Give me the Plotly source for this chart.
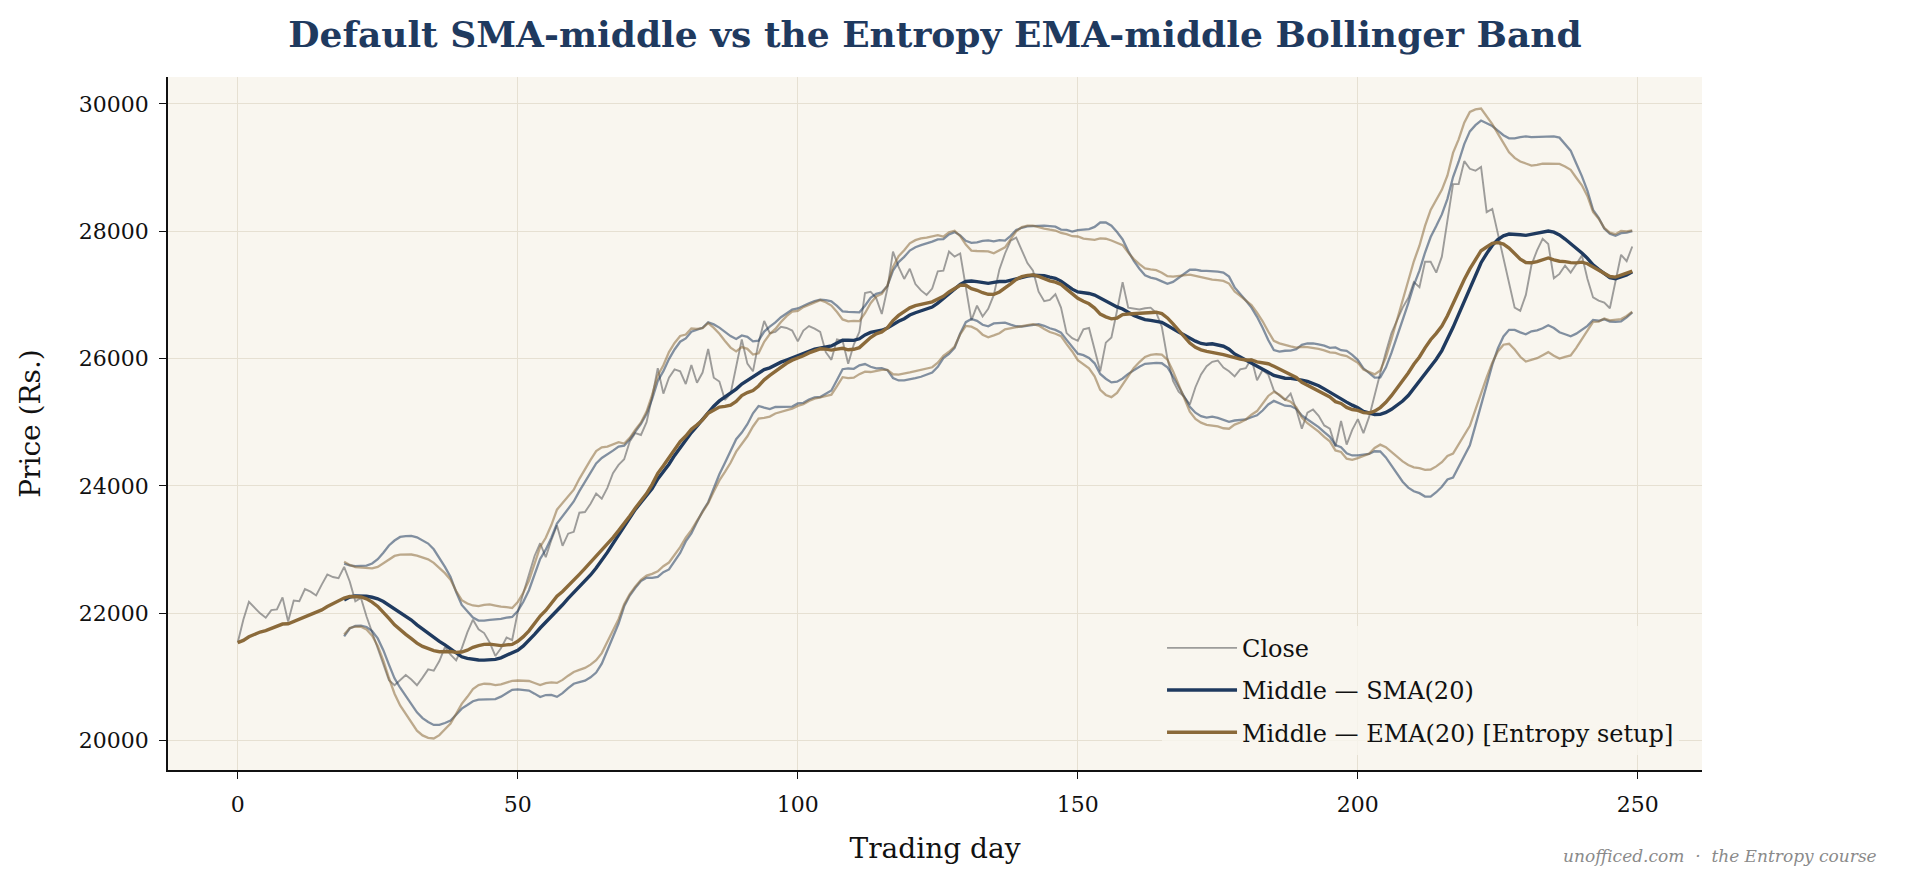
import numpy as np
import pandas as pd
import plotly.graph_objects as go

# ---- data ----
close = [
    21540, 21900, 22180, 22090, 22000, 21930, 22050, 22060, 22250, 21870,
    22200, 22190, 22380, 22340, 22280, 22450, 22610, 22570, 22550, 22730,
    22500, 22190, 22240, 21950, 21700, 21450, 21200, 20950, 20870, 20950,
    21030, 20960, 20870, 20990, 21120, 21100, 21250, 21470, 21350, 21260,
    21450, 21700, 21900, 21750, 21690, 21540, 21330, 21450, 21620, 21580,
    22020, 22320, 22600, 22900, 23100, 22880, 23150, 23380, 23060, 23250,
    23280, 23580, 23590, 23720, 23880, 23800, 23970, 24200, 24330, 24420,
    24700, 24830, 24800, 25000, 25400, 25850, 25450, 25700, 25830, 25800,
    25600, 25900, 25620, 25780, 26150, 25700, 25640, 25350, 25450, 25870,
    26300, 25920, 25800, 26250, 26590, 26400, 26420, 26500, 26480, 26440,
    26270, 26440, 26510, 26470, 26420, 26100, 25980, 26300, 26280, 25920,
    26220, 26420, 27030, 27050, 26950, 26700, 27100, 27680, 27440, 27250,
    27410, 27170, 27070, 27000, 27100, 27370, 27380, 27680, 27600, 27650,
    27150, 26600, 26830, 26660, 26780, 27000, 27400, 27650, 27850, 27900,
    27700, 27500, 27380, 27050, 26900, 26920, 27010, 26800, 26400, 26320,
    26280, 26460, 26480, 26150, 25800, 26250, 26330, 26750, 27200, 26800,
    26780, 26770, 26790, 26800, 26720, 26500, 26000, 25650, 25480, 25400,
    25280, 25550, 25750, 25880, 25950, 25970, 25860, 25800, 25720, 25830,
    25850, 26000, 25660, 25820, 25750, 25500, 25420, 25350, 25450, 25200,
    24900, 25150, 25200, 25100, 24950, 24900, 24620, 25020, 24650, 24880,
    25050, 24830, 25080, 25450, 25770, 26100, 26400, 26600, 26800, 26950,
    27200, 27120, 27520, 27520, 27350, 27600, 28200, 28740, 28740, 29100,
    28980, 28950, 29010, 28300, 28350, 27950, 27570, 27150, 26800, 26750,
    27000, 27470, 27700, 27880, 27800, 27260, 27330, 27460, 27350, 27480,
    27620, 27250, 26960, 26910, 26880, 26790, 27200, 27630, 27530, 27760,
]
window = 20
n_std = 2
x_ticks = [0, 50, 100, 150, 200, 250]
y_ticks = [20000, 22000, 24000, 26000, 28000, 30000]
y_tick_labels = [str(v) for v in y_ticks]
x_tick_labels = [str(v) for v in x_ticks]

title_text = "Default SMA-middle vs the Entropy EMA-middle Bollinger Band"
names = ["Close", "Middle — SMA(20)", "Middle — EMA(20) [Entropy setup]"]
watermark = "unofficed.com  ·  the Entropy course"

# ---- indicators ----
days = np.arange(len(close))
s = pd.Series(close, dtype=float)
sma = s.rolling(window).mean()
std = s.rolling(window).std(ddof=0)
ema = s.ewm(span=window, adjust=False).mean()
sma_up, sma_lo = sma + n_std * std, sma - n_std * std
ema_up, ema_lo = ema + n_std * std, ema - n_std * std

NAVY = "#1f3a5f"
BROWN = "#8b6a3a"
SMA_BAND = "rgba(31,58,95,0.55)"
EMA_BAND = "rgba(139,106,58,0.55)"
CLOSE_C = "rgba(120,120,120,0.72)"
FONT = "DejaVu Serif"

fig = go.Figure()
fig.add_trace(go.Scatter(x=days, y=s, mode="lines", name=names[0],
                         line=dict(color=CLOSE_C, width=1.9),
                         legendgroup="a", legendrank=1))
for y, c in [(sma_up, SMA_BAND), (sma_lo, SMA_BAND), (ema_up, EMA_BAND), (ema_lo, EMA_BAND)]:
    fig.add_trace(go.Scatter(x=days, y=y, mode="lines", showlegend=False,
                             line=dict(color=c, width=2.3), hoverinfo="skip"))
fig.add_trace(go.Scatter(x=days, y=sma, mode="lines", name=names[1],
                         line=dict(color=NAVY, width=3.4),
                         legendgroup="b", legendrank=2))
fig.add_trace(go.Scatter(x=days, y=ema, mode="lines", name=names[2],
                         line=dict(color=BROWN, width=3.4),
                         legendgroup="c", legendrank=3))

allv = pd.concat([s, sma_up, sma_lo, ema_up, ema_lo]).dropna()
lo, hi = allv.min(), allv.max()
pad = (hi - lo) * 0.05
xpad = (len(close) - 1) * 0.05

fig.update_layout(
    width=1909, height=884,
    paper_bgcolor="white", plot_bgcolor="#f9f6ef",
    margin=dict(l=168, r=207, t=77, b=114),
    font=dict(family=FONT, color="#222222"),
    title=dict(text=f"<b>{title_text}</b>", x=(168 + 767) / 1909, xanchor="center",
               y=1 - 34 / 884, yanchor="middle",
               font=dict(family=FONT, size=36, color=NAVY)),
    showlegend=True,
    legend=dict(x=0.648, xanchor="left", y=0.022, yanchor="bottom",
                bgcolor="rgba(249,246,239,0.8)", borderwidth=0,
                font=dict(family=FONT, size=24, color="#111111"),
                tracegroupgap=8, itemwidth=70, traceorder="grouped"),
    xaxis=dict(range=[-xpad, len(close) - 1 + xpad], tickvals=x_ticks, ticktext=x_tick_labels,
               showline=True, linecolor="#111111", linewidth=1.6,
               ticks="outside", ticklen=7, tickwidth=1.3, tickcolor="#111111",
               ticklabelstandoff=7,
               showgrid=True, gridcolor="#e6e0d2", gridwidth=1, zeroline=False,
               tickfont=dict(family=FONT, size=22, color="#111111"),
               title=dict(text="Trading day", standoff=22,
                          font=dict(family=FONT, size=28, color="#111111"))),
    yaxis=dict(range=[lo - pad, hi + pad], tickvals=y_ticks, ticktext=y_tick_labels,
               showline=True, linecolor="#111111", linewidth=1.6,
               ticks="outside", ticklen=7, tickwidth=1.3, tickcolor="#111111",
               ticklabelstandoff=6,
               showgrid=True, gridcolor="#e6e0d2", gridwidth=1, zeroline=False,
               tickfont=dict(family=FONT, size=22, color="#111111"),
               title=dict(text="Price (Rs.)", standoff=30,
                          font=dict(family=FONT, size=28, color="#111111"))),
    annotations=[dict(text=f"<i>{watermark}</i>", xref="paper", yref="paper",
                      x=(1879 - 168) / 1534, xanchor="right",
                      y=-(856 - 770) / 693, yanchor="middle", showarrow=False,
                      font=dict(family=FONT, size=17, color="#8a8a8a"))],
)

fig.write_html("out.html")
